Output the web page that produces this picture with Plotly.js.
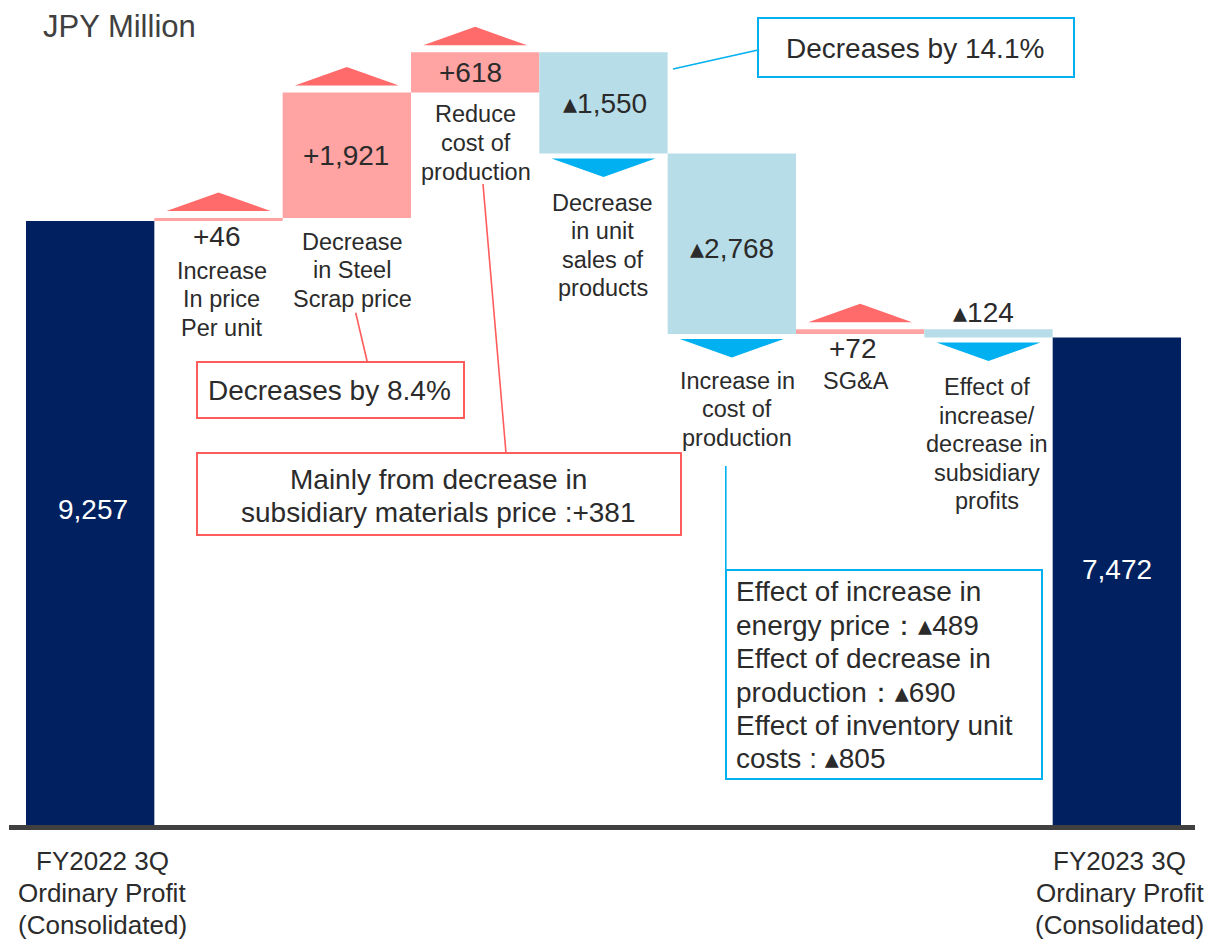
<!DOCTYPE html>
<html>
<head>
<meta charset="utf-8">
<script src="https://cdn.plot.ly/plotly-3.0.1.min.js"></script>
<style>html,body{margin:0;padding:0;background:#fff;}#chart{width:1209px;height:939px;}</style>
</head>
<body>
<div id="chart"></div>
<script>
// ---------------- DATA ----------------
const categories = [
  "FY2022 3Q<br>Ordinary Profit<br>(Consolidated)",
  "Increase<br>In price<br>Per unit",
  "Decrease<br>in Steel<br>Scrap price",
  "Reduce<br>cost of<br>production",
  "Decrease<br>in unit<br>sales of<br>products",
  "Increase in<br>cost of<br>production",
  "SG&A",
  "Effect of<br>increase/<br>decrease in<br>subsidiary<br>profits",
  "FY2023 3Q<br>Ordinary Profit<br>(Consolidated)"
];
const measures = ["absolute","relative","relative","relative","relative","relative","relative","relative","total"];
const values = [9257, 46, 1921, 618, -1550, -2768, 72, -124, 7472];
const valueLabels = ["9,257","+46","+1,921","+618","▲1,550","▲2,768","+72","▲124","7,472"];
const unitLabel = "JPY Million";
const noteSteel = ["Decreases by 8.4%"];
const noteCost = ["Mainly from decrease in", "subsidiary materials price :+381"];
const noteSales = ["Decreases by 14.1%"];
const noteProduction = [
  "Effect of increase in",
  "energy price：▲489",
  "Effect of decrease in",
  "production：▲690",
  "Effect of inventory unit",
  "costs : ▲805"
];

// ---------------- STYLE / GEOMETRY ----------------
const FONT = "Liberation Sans, Arial, Helvetica, sans-serif";
const C_TOTAL = "#002060", C_UP = "#FFA3A3", C_DOWN = "#B7DEE8";
const C_TRI_UP = "#FF6B6B", C_TRI_DOWN = "#00B0F0";
const C_RED = "#FF5C5C", C_BLUE = "#00B0F0";
const TXT = "#2b2b2b";
const W = 1209, H = 939;
const M = {l: 9, r: 14, t: 10, b: 114};
const plotW = W - M.l - M.r, plotH = H - M.t - M.b;
const YMAX = 12490;
const pxPerUnit = plotH / YMAX;
const X = px => (px - M.l) / plotW;          // pixel -> paper
const Y = py => (H - M.b - py) / plotH;      // pixel -> paper
const U = px => px / pxPerUnit;              // pixel length -> data units

const tri = s => s.replace(/▲/g, '<span style="font-family:\'DejaVu Sans\'">▴</span>');

// cumulative levels
const idx = values.map((_, i) => i);
const before = [], after = [];
let run = 0;
values.forEach((v, i) => {
  if (measures[i] === "relative") { before.push(run); run += v; after.push(run); }
  else { before.push(0); if (measures[i] === "absolute") run = v; after.push(run); }
});

const trace = {
  type: "waterfall",
  x: idx,
  y: values,
  measure: measures,
  width: idx.map(() => 1),
  connector: {visible: false},
  increasing: {marker: {color: C_UP, line: {width: 0}}},
  decreasing: {marker: {color: C_DOWN, line: {width: 0}}},
  totals: {marker: {color: C_TOTAL, line: {width: 0}}},
  textinfo: "none",
  hoverinfo: "skip",
  showlegend: false
};

// ---------- triangles (arrows) ----------
const shapes = [];
idx.forEach(i => {
  if (measures[i] !== "relative") return;
  const hw = 0.405;
  if (values[i] > 0) {
    const b = after[i] + U(7), a = b + U(18.5);
    shapes.push({type: "path", xref: "x", yref: "y",
      path: `M ${i-hw},${b} L ${i+hw},${b} L ${i},${a} Z`,
      fillcolor: C_TRI_UP, line: {width: 0}});
  } else {
    const b = after[i] - U(5), a = b - U(18.5);
    shapes.push({type: "path", xref: "x", yref: "y",
      path: `M ${i-hw},${b} L ${i+hw},${b} L ${i},${a} Z`,
      fillcolor: C_TRI_DOWN, line: {width: 0}});
  }
});

// ---------- callout boxes & leader lines ----------
function box(x0, y0, x1, y1, color) {
  shapes.push({type: "rect", xref: "paper", yref: "paper",
    x0: X(x0), x1: X(x1), y0: Y(y1), y1: Y(y0),
    line: {color: color, width: 2}, fillcolor: "rgba(255,255,255,0)"});
}
function leader(x0, y0, x1, y1, color) {
  shapes.push({type: "line", xref: "paper", yref: "paper",
    x0: X(x0), y0: Y(y0), x1: X(x1), y1: Y(y1),
    line: {color: color, width: 1.6}});
}
box(758, 18, 1074, 77, C_BLUE);  leader(673, 69, 758, 50, C_BLUE);
box(197, 362, 464, 418, C_RED);  leader(355.7, 312.7, 367.3, 362, C_RED);
box(197, 453, 681, 535, C_RED);  leader(483, 184, 506, 453, C_RED);
box(726, 570, 1042, 779, C_BLUE); leader(725.8, 466, 725.8, 570, C_BLUE);

// ---------- text ----------
const annotations = [];
function lines(arr, cx, firstY, spacing, size, color, anchor) {
  arr.forEach((t, k) => annotations.push({
    xref: "paper", yref: "paper", x: X(cx), y: Y(firstY + k*spacing),
    xanchor: anchor || "center", yanchor: "middle", showarrow: false,
    text: tri(t), font: {family: FONT, size: size, color: color}
  }));
}

// value labels tied to bars (position nudges in px)
const valueRef = ["mid","bottom","mid","mid","mid","mid","bottom","top","mid"];
const nudgeX = [3, -1.5, -1, -5, 1, 0, -7, -5, 0];
const nudgeY = [13, -16, 0, 0, -1, -4.5, -14.5, 16.4, 12];
idx.forEach(i => {
  const lo = Math.min(before[i], after[i]), hi = Math.max(before[i], after[i]);
  const y = valueRef[i] === "mid" ? (lo + hi) / 2 : (valueRef[i] === "top" ? hi : lo);
  annotations.push({
    xref: "x", yref: "y", x: i, y: y, xanchor: "center", yanchor: "middle",
    xshift: nudgeX[i], yshift: nudgeY[i], showarrow: false,
    text: tri(valueLabels[i]),
    font: {family: FONT, size: 28, color: (measures[i] === "relative") ? TXT : "#ffffff"}
  });
});

// category labels
const catPos = [
  {x: 102, y: 860.5, s: 32, f: 26},
  {x: 221.7, y: 270.7, s: 28.7, f: 23.5},
  {x: 352, y: 241.5, s: 28.8, f: 23.5},
  {x: 475.8, y: 113.7, s: 29, f: 23.5},
  {x: 602.5, y: 203, s: 28.3, f: 23.5},
  {x: 737, y: 380.7, s: 28.8, f: 23.5},
  {x: 856.3, y: 380.7, s: 28.8, f: 23.5},
  {x: 987.3, y: 387.3, s: 28.5, f: 23.5},
  {x: 1119.5, y: 860.5, s: 32, f: 26}
];
categories.forEach((c, i) => {
  const p = catPos[i];
  lines(c.split("<br>"), p.x, p.y, p.s, p.f, TXT);
});

// unit
annotations.push({xref: "paper", yref: "paper", x: X(40.5), y: Y(27), xanchor: "left", yanchor: "middle",
  showarrow: false, text: unitLabel, font: {family: FONT, size: 31, color: "#404040"}});

// notes
lines(noteSales, 914.5, 48.5, 33, 28, TXT);
lines(noteSteel, 329, 390.7, 33, 28, TXT);
lines(noteCost, 438.5, 479, 33, 28, TXT);
lines(noteProduction, 734, 591.7, 33.45, 28, TXT, "left");

const layout = {
  width: W, height: H,
  margin: M,
  paper_bgcolor: "#ffffff", plot_bgcolor: "#ffffff",
  showlegend: false,
  waterfallgap: 0,
  xaxis: {type: "linear", range: [-0.6325, 8.609], showgrid: false, zeroline: false,
    showticklabels: false, ticks: "", showline: true, linewidth: 5, linecolor: "#404040", fixedrange: true},
  yaxis: {range: [0, YMAX], visible: false, fixedrange: true},
  shapes: shapes,
  annotations: annotations,
  font: {family: FONT, color: TXT}
};

Plotly.newPlot("chart", [trace], layout, {displayModeBar: false, staticPlot: true});
</script>
</body>
</html>
